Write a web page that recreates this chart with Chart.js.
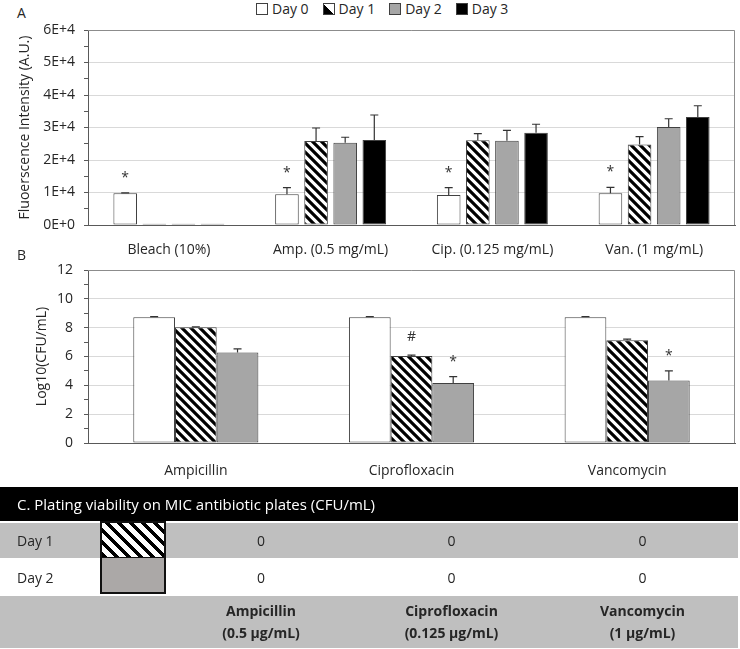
<!DOCTYPE html>
<html>
<head>
<meta charset="utf-8">
<script src="https://cdn.jsdelivr.net/npm/chart.js@4.4.1/dist/chart.umd.min.js"></script>
<style>
  html, body { margin: 0; padding: 0; background: #fff; }
  body { font-family: "Open Sans", sans-serif; color: #262626; }
  #wrap { position: relative; width: 740px; height: 649px; overflow: hidden; }
  .panel { position: absolute; left: 0; width: 740px; }
  .lbl { position: absolute; left: 17px; font-size: 14px; line-height: 17px; }
  #legend { position: absolute; left: 256px; top: 0; display: flex; gap: 14px; font-size: 14px; line-height: 17px; }
  #legend .item { display: flex; align-items: center; }
  #legend .box { width: 10px; height: 10px; border: 1px solid #404040; margin-right: 4px; }
  #plates { position: absolute; left: 0; top: 487px; width: 738px; border-collapse: separate; border-spacing: 0; font-size: 14px; }
  #plates td { padding: 0; }
  #plates .head td { background: #000; color: #fff; height: 34px; padding-left: 17px; font-size: 15px; }
  #plates .row td { height: 34px; }
  #plates .row td.val { text-align: center; }
  #plates .row td.name { padding-left: 17px; }
  #plates .foot td { background: #bfbfbf; height: 52px; text-align: center; font-weight: bold; line-height: 22px; border-top: 2px solid #fff; }
  .hatch { background: repeating-linear-gradient(45deg, #000 0 4px, #fff 4px 8.5px); }
</style>
</head>
<body>
<div id="wrap">
  <div class="lbl" style="top:4px">A</div>
  <div id="legend"></div>
  <div class="panel" style="top:0;height:262px"><canvas id="chartA"></canvas></div>
  <div class="lbl" style="top:246px">B</div>
  <div class="panel" style="top:245px;height:235px"><canvas id="chartB"></canvas></div>
  <table id="plates"></table>
</div>
<script>
// panel A: fluorescence
const treatments = ["Bleach (10%)", "Amp. (0.5 mg/mL)", "Cip. (0.125 mg/mL)", "Van. (1 mg/mL)"];
const days = ["Day 0", "Day 1", "Day 2", "Day 3"];
const fluorDay0 = [9750, 9450, 9230, 9750];
const fluorDay1 = [400, 25850, 26050, 24800];
const fluorDay2 = [400, 25300, 25950, 30150];
const fluorDay3 = [400, 26150, 28400, 33230];
const fluorErrDay0 = [150, 2050, 2250, 1850];
const fluorErrDay1 = [0, 4000, 2050, 2400];
const fluorErrDay2 = [0, 1700, 3150, 2550];
const fluorErrDay3 = [0, 7700, 2600, 3470];
const fluorMarks = ["*", "*", "*", "*"];
const fluorTicks = ["0E+0", "1E+4", "2E+4", "3E+4", "4E+4", "5E+4", "6E+4"];

// panel B: viable counts
const antibiotics = ["Ampicillin", "Ciprofloxacin", "Vancomycin"];
const cfuDay0 = [8.73, 8.73, 8.73];
const cfuDay1 = [8.03, 6.04, 7.13];
const cfuDay2 = [6.27, 4.17, 4.33];
const cfuErrDay0 = [0.03, 0.03, 0.03];
const cfuErrDay1 = [0.03, 0.05, 0.08];
const cfuErrDay2 = [0.26, 0.43, 0.67];
const cfuMarksDay1 = ["", "#", ""];
const cfuMarksDay2 = ["", "*", "*"];

// panel C: plating table
const plateTitle = "C. Plating viability on MIC antibiotic plates (CFU/mL)";
const plateDays = ["Day 1", "Day 2"];
const plateCounts = [[0, 0, 0], [0, 0, 0]];
const plateConc = ["0.5 µg/mL", "0.125 µg/mL", "1 µg/mL"];

Chart.defaults.font.family = "'Open Sans', sans-serif";
Chart.defaults.font.size = 14;
Chart.defaults.color = "#262626";

const GRAY = "#a6a6a6";
const EDGE = "#404040";

function makeHatch() {
  const c = document.createElement("canvas");
  c.width = 9;
  c.height = 9;
  const g = c.getContext("2d");
  g.fillStyle = "#fff";
  g.fillRect(0, 0, 9, 9);
  g.strokeStyle = "#000";
  g.lineWidth = 3.2;
  g.beginPath();
  g.moveTo(-2, -2); g.lineTo(11, 11);
  g.moveTo(-2, 7); g.lineTo(2, 11);
  g.moveTo(7, -2); g.lineTo(11, 2);
  g.stroke();
  return g.createPattern(c, "repeat");
}
const hatch = makeHatch();

// error bars (upper only) and significance marks
const errorBars = {
  id: "errorBars",
  afterDatasetsDraw(chart) {
    const { ctx } = chart;
    const y = chart.scales.y;
    ctx.save();
    ctx.strokeStyle = "#333";
    ctx.lineWidth = 1.2;
    chart.data.datasets.forEach((ds, i) => {
      const meta = chart.getDatasetMeta(i);
      meta.data.forEach((bar, j) => {
        const err = ds.errors[j];
        const top = y.getPixelForValue(ds.data[j] + err);
        if (err > 0) {
          ctx.beginPath();
          ctx.moveTo(bar.x, bar.y);
          ctx.lineTo(bar.x, top);
          ctx.moveTo(bar.x - 4, top);
          ctx.lineTo(bar.x + 4, top);
          ctx.stroke();
        }
        const mark = ds.marks && ds.marks[j];
        if (mark) {
          ctx.fillStyle = "#333";
          ctx.font = "14px 'Open Sans', sans-serif";
          ctx.textAlign = "center";
          ctx.textBaseline = "alphabetic";
          ctx.fillText(mark, bar.x, top - (mark === "*" ? 11 : 14));
        }
      });
    });
    ctx.restore();
  },
};

// top and right edges of the plot frame
const frame = {
  id: "frame",
  afterDraw(chart) {
    const { ctx, chartArea: a } = chart;
    ctx.save();
    ctx.strokeStyle = "#8c8c8c";
    ctx.lineWidth = 1;
    ctx.beginPath();
    ctx.moveTo(a.left, a.top + 0.5);
    ctx.lineTo(a.right - 0.5, a.top + 0.5);
    ctx.lineTo(a.right - 0.5, a.bottom);
    ctx.stroke();
    ctx.restore();
  },
};

function bar(label, data, errors, color, marks) {
  return {
    label,
    data,
    errors,
    marks,
    backgroundColor: color,
    borderColor: EDGE,
    borderWidth: 1,
    borderSkipped: false,
  };
}

function yAxis(max, step, major, width, titleText, titlePad, tickPad, fmt) {
  return {
    min: 0,
    max,
    afterFit: (s) => { s.width = width; },
    ticks: {
      stepSize: step,
      autoSkip: false,
      padding: tickPad,
      callback: (v) => (v % major === 0 ? fmt(v) : ""),
    },
    grid: {
      color: (c) => (c.tick && c.tick.value % major === 0 ? "#d9d9d9" : "rgba(0,0,0,0)"),
      tickColor: "#595959",
      tickLength: 4,
      lineWidth: 1,
    },
    border: { color: "#595959", width: 1 },
    title: { display: true, text: titleText, padding: { top: titlePad, bottom: 0 }, font: { size: 14 } },
  };
}

function xAxis(pad) {
  return {
    afterFit: (s) => { s.height = 37; },
    grid: { display: false },
    border: { color: "#595959", width: 1 },
    ticks: { padding: pad, font: { size: 14 } },
  };
}

const fluorColors = ["#fff", hatch, GRAY, "#000"];
new Chart(document.getElementById("chartA"), {
  type: "bar",
  data: {
    labels: treatments,
    datasets: [
      bar(days[0], fluorDay0, fluorErrDay0, fluorColors[0], fluorMarks),
      bar(days[1], fluorDay1, fluorErrDay1, fluorColors[1]),
      bar(days[2], fluorDay2, fluorErrDay2, fluorColors[2]),
      bar(days[3], fluorDay3, fluorErrDay3, fluorColors[3]),
    ],
  },
  options: {
    responsive: true,
    maintainAspectRatio: false,
    animation: false,
    layout: { padding: { top: 30, right: 5, left: 0, bottom: 0 } },
    datasets: { bar: { barPercentage: 0.81, categoryPercentage: 0.72 } },
    plugins: { legend: { display: false }, tooltip: { enabled: false } },
    scales: {
      x: xAxis(9),
      y: yAxis(60000, 5000, 10000, 88, "Fluoerscence Intensity (A.U.)", 17, 9,
        (v) => fluorTicks[v / 10000]),
    },
  },
  plugins: [errorBars, frame],
});

new Chart(document.getElementById("chartB"), {
  type: "bar",
  data: {
    labels: antibiotics,
    datasets: [
      bar(days[0], cfuDay0, cfuErrDay0, "#fff"),
      bar(days[1], cfuDay1, cfuErrDay1, hatch, cfuMarksDay1),
      bar(days[2], cfuDay2, cfuErrDay2, GRAY, cfuMarksDay2),
    ],
  },
  options: {
    responsive: true,
    maintainAspectRatio: false,
    animation: false,
    layout: { padding: { top: 25, right: 5, left: 0, bottom: 0 } },
    datasets: { bar: { barPercentage: 1, categoryPercentage: 0.58 } },
    plugins: { legend: { display: false }, tooltip: { enabled: false } },
    scales: {
      x: xAxis(12),
      y: yAxis(12, 1, 2, 88, "Log10(CFU/mL)", 34, 11, (v) => String(v)),
    },
  },
  plugins: [errorBars, frame],
});

// html legend for panel A
const legendSwatch = ["#fff", "linear-gradient(45deg, #000 50%, #fff 50%)", GRAY, "#000"];
document.getElementById("legend").innerHTML = days
  .map((d, i) => `<div class="item"><span class="box" style="background:${legendSwatch[i]}"></span>${d}</div>`)
  .join("");

// plating table
const rowBg = ["#bfbfbf", "#fff"];
let html = `<tr class="head"><td colspan="5">${plateTitle}</td></tr>`;
plateDays.forEach((d, i) => {
  const sw = i === 0
    ? `<td class="hatch" style="border:2px solid #111;border-bottom:1px solid #111"></td>`
    : `<td style="background:#aba8a7;border:2px solid #111;border-top:none"></td>`;
  html += `<tr class="row" style="background:${rowBg[i]}">` +
    `<td class="name" style="border-top:2px solid #fff">${d}</td>` + sw +
    plateCounts[i].map((v) => `<td class="val" style="border-top:2px solid #fff">${v}</td>`).join("") +
    `</tr>`;
});
html += `<tr class="foot"><td></td><td></td>` +
  antibiotics.map((a, i) => `<td>${a}<br>(${plateConc[i]})</td>`).join("") + `</tr>`;
document.getElementById("plates").innerHTML =
  `<colgroup><col style="width:100px"><col style="width:66px"><col style="width:190px"><col style="width:191px"><col style="width:191px"></colgroup>` + html;
</script>
</body>
</html>
